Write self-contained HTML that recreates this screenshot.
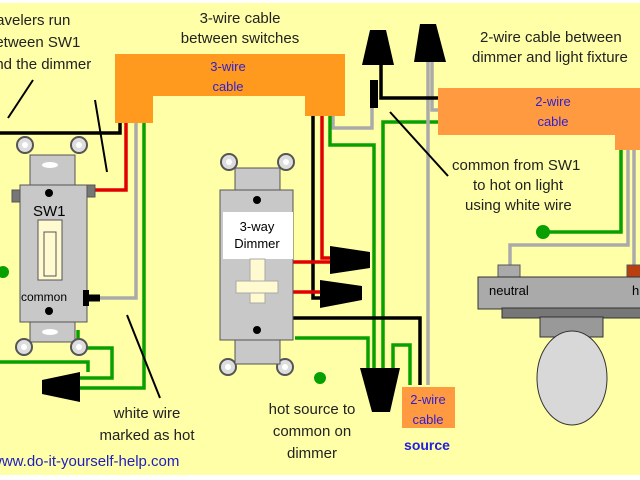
<!DOCTYPE html>
<html><head><style>
html,body{margin:0;padding:0;background:#fff;}
svg{display:block;}
text{font-family:"Liberation Sans",sans-serif;}
</style></head><body>
<svg width="640" height="480" viewBox="0 0 640 480" xmlns="http://www.w3.org/2000/svg">
<rect x="0" y="3" width="640" height="472" fill="#FFFFA8"/>
<g fill="none" stroke-width="3.5" stroke-linejoin="miter">
<!-- traveler black from cable to left -->
<path d="M120 120 V133 H0" stroke="#000"/>
<!-- red traveler to SW1 -->
<path d="M126 122 V190 H88" stroke="#e00000"/>
<!-- gray white wire down to common -->
<path d="M136 122 V298 H100" stroke="#aaa"/>
<path d="M100 298 H86" stroke="#000" stroke-width="7"/>
<!-- green ground SW1 -->
<path d="M144 122 V388 H80" stroke="#08a000"/>
<path d="M78 330 V348 H112 V378 H80" stroke="#08a000"/>
<path d="M0 362 H88 V372" stroke="#08a000"/>
<!-- dimmer side wires from cable right leg -->
<path d="M313 116 V298 H322" stroke="#000"/>
<path d="M322 116 V258 H330" stroke="#e00000"/>
<path d="M293 262 H330" stroke="#e00000"/>
<path d="M293 292 H320" stroke="#e00000"/>
<path d="M333 116 V128 H372 V80" stroke="#aaa"/>
<path d="M330 116 V145 H374 V370" stroke="#08a000"/>
<path d="M383 370 V122 H440" stroke="#08a000"/>
<path d="M295 338 H368 V370" stroke="#08a000"/>
<path d="M293 318 H420 V385" stroke="#000"/>
<path d="M393 370 V345 H410 V385" stroke="#08a000"/>
<path d="M428 60 V385" stroke="#aaa"/>
<path d="M432 60 V110 H440" stroke="#aaa"/>
<path d="M381 60 V98 H440" stroke="#000"/>
<!-- white wire marker -->
<path d="M374 80 V108" stroke="#000" stroke-width="8"/>
<!-- light fixture wires -->
<path d="M621 148 V232 H543" stroke="#08a000"/>
<path d="M628 148 V245 H510 V266" stroke="#aaa"/>
<path d="M634 148 V266" stroke="#aaa"/>
<!-- arrows -->
<path d="M33 80 L8 118" stroke="#000" stroke-width="2"/>
<path d="M95 100 L107 172" stroke="#000" stroke-width="2"/>
<path d="M160 398 L127 315" stroke="#000" stroke-width="2"/>
<path d="M448 176 L390 112" stroke="#000" stroke-width="2"/>
</g>
<circle cx="3" cy="272" r="6" fill="#08a000"/>
<circle cx="543" cy="232" r="7" fill="#08a000"/>
<circle cx="320" cy="378" r="6" fill="#08a000"/>
<!-- orange cables -->
<path d="M115 54 H345 V116 H305 V96 H153 V123 H115 Z" fill="#FF9A1E"/>
<text x="228" y="71" font-size="13" fill="#3020d0" text-anchor="middle">3-wire</text>
<text x="228" y="91" font-size="13" fill="#3020d0" text-anchor="middle">cable</text>
<path d="M438 88 H640 V150 H615 V135 H438 Z" fill="#FF9A40"/>
<text x="553" y="106" font-size="13" fill="#3020d0" text-anchor="middle">2-wire</text>
<text x="553" y="126" font-size="13" fill="#3020d0" text-anchor="middle">cable</text>
<rect x="402" y="387" width="53" height="41" fill="#FF9A40"/>
<text x="428" y="404" font-size="13" fill="#3020d0" text-anchor="middle">2-wire</text>
<text x="428" y="424" font-size="13" fill="#3020d0" text-anchor="middle">cable</text>
<text x="427" y="450" font-size="14" font-weight="bold" fill="#2020e0" text-anchor="middle">source</text>
<!-- wire nuts -->
<g fill="#000">
<polygon points="370,30 386,30 394,65 362,65"/>
<polygon points="420,24 436,24 446,62 414,62"/>
<polygon points="330,246 370,252 370,268 330,274"/>
<polygon points="320,280 362,286 362,300 320,308"/>
<polygon points="360,368 400,368 390,412 372,412"/>
<polygon points="80,372 80,402 42,394 42,380"/>
</g>
<!-- SW1 -->
<g stroke="#555" stroke-width="1">
<rect x="30" y="155" width="45" height="32" fill="#c8c8c8"/>
<rect x="20" y="185" width="67" height="137" fill="#c8c8c8"/>
<rect x="12" y="190" width="8" height="12" fill="#777"/>
<rect x="87" y="185" width="8" height="12" fill="#777"/>
<rect x="30" y="322" width="45" height="20" fill="#c8c8c8"/>
<rect x="38" y="220" width="24" height="60" fill="#fffad0"/>
<rect x="44" y="232" width="12" height="44" fill="#fffad0"/>
</g>
<g fill="#ddd" stroke="#555" stroke-width="2">
<circle cx="25" cy="145" r="8"/><circle cx="79" cy="145" r="8"/>
<circle cx="24" cy="347" r="8"/><circle cx="79" cy="347" r="8"/>
<circle cx="229" cy="162" r="8"/><circle cx="286" cy="162" r="8"/>
<circle cx="228" cy="367" r="8"/><circle cx="285" cy="367" r="8"/>
</g>
<g fill="#fff"><circle cx="25" cy="145" r="3"/><circle cx="79" cy="145" r="3"/><circle cx="24" cy="347" r="3"/><circle cx="79" cy="347" r="3"/><circle cx="229" cy="162" r="3"/><circle cx="286" cy="162" r="3"/><circle cx="228" cy="367" r="3"/><circle cx="285" cy="367" r="3"/>
<ellipse cx="50" cy="165" rx="8" ry="3"/><ellipse cx="50" cy="332" rx="8" ry="3"/><ellipse cx="257" cy="178" rx="8" ry="3"/><ellipse cx="257" cy="352" rx="8" ry="3"/></g>
<circle cx="49" cy="193" r="4" fill="#000"/><circle cx="49" cy="311" r="4" fill="#000"/>
<text x="33" y="216" font-size="15" fill="#000">SW1</text>
<text x="21" y="301" font-size="12" fill="#000">common</text>
<path d="M86 290 V306" stroke="#000" stroke-width="6"/>
<!-- Dimmer -->
<g stroke="#555" stroke-width="1">
<rect x="235" y="168" width="45" height="24" fill="#c8c8c8"/>
<rect x="220" y="190" width="73" height="150" fill="#c8c8c8"/>
<rect x="235" y="340" width="45" height="24" fill="#c8c8c8"/>
</g>
<rect x="223" y="212" width="70" height="47" fill="#fff"/>
<circle cx="257" cy="200" r="4" fill="#000"/><circle cx="257" cy="330" r="4" fill="#000"/>
<text x="257" y="231" font-size="13" text-anchor="middle">3-way</text>
<text x="257" y="248" font-size="13" text-anchor="middle">Dimmer</text>
<rect x="250" y="259" width="15" height="44" fill="#fffad0" stroke="#aaa"/>
<rect x="236" y="281" width="42" height="12" fill="#fffad0" stroke="#aaa"/>
<!-- light fixture -->
<rect x="498" y="265" width="22" height="13" fill="#aaa" stroke="#555"/>
<rect x="627" y="265" width="15" height="13" fill="#b84010" stroke="#555"/>
<rect x="478" y="277" width="170" height="32" fill="#aaa" stroke="#333"/>
<rect x="502" y="308" width="140" height="10" fill="#777" stroke="#333"/>
<rect x="540" y="317" width="63" height="20" fill="#999" stroke="#333"/>
<ellipse cx="572" cy="378" rx="35" ry="47" fill="#d8d8d8" stroke="#333"/>
<text x="489" y="295" font-size="13">neutral</text>
<text x="632" y="295" font-size="13">h</text>
<!-- labels -->
<g font-size="15" fill="#222">
<text x="-13" y="25">travelers run</text>
<text x="-13" y="47">between SW1</text>
<text x="-13" y="69">and the dimmer</text>
<text x="240" y="23" text-anchor="middle">3-wire cable</text>
<text x="240" y="43" text-anchor="middle">between switches</text>
<text x="480" y="42">2-wire cable between</text>
<text x="472" y="62">dimmer and light fixture</text>
<text x="452" y="170">common from SW1</text>
<text x="473" y="190">to hot on light</text>
<text x="465" y="210">using white wire</text>
<text x="147" y="418" text-anchor="middle">white wire</text>
<text x="147" y="440" text-anchor="middle">marked as hot</text>
<text x="312" y="414" text-anchor="middle">hot source to</text>
<text x="312" y="436" text-anchor="middle">common on</text>
<text x="312" y="458" text-anchor="middle">dimmer</text>
</g>
<text x="-7" y="227" font-size="0"> </text>
<text x="-9" y="466" font-size="15" fill="#2020c0">www.do-it-yourself-help.com</text>
</svg>
</body></html>
